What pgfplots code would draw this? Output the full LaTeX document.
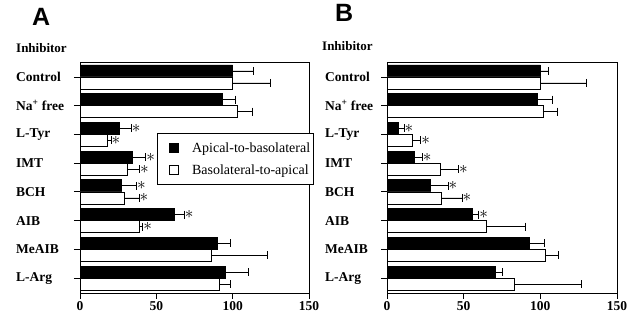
\documentclass[border=0pt]{standalone}
\usepackage{fontspec}
\setmainfont{Liberation Serif}
\newfontfamily\hv{Liberation Sans}
\usepackage{pgfplots}
\usepackage{pgfplotstable}
\pgfplotsset{compat=1.18}

% cat  a(apical-to-basolateral) aerr  b(basolateral-to-apical) berr
\pgfplotstableread{
cat a aerr b berr
0 100 13.5 100 25
1 93 9 103 10
2 26 7.5 18 2.3
3 34 9 31 8
4 27 10 29 9.6
5 62 6.3 39 2
6 90 8.7 86 37
7 95 15 91.5 7.2
}\dataA
\pgfplotstableread{
cat a aerr b berr
0 100 5 100 30
1 98 10 101.7 9.3
2 7.2 3.8 16.7 5.3
3 17.6 5.4 35 11.5
4 28.3 11.5 35.7 13.2
5 55.4 4.4 65 25.2
6 92.8 10 103.3 8.7
7 70.4 4.6 83.3 43.7
}\dataB

\pgfplotsset{
  panel/.style={
    scale only axis,
    height=231pt,
    xmin=0, xmax=150,
    ymin=-0.52, ymax=7.52,
    y dir=reverse,
    axis line style={line width=0.8pt},
    ytick={0,...,7},
    yticklabels={Control,Na\textsuperscript{+} free,L-Tyr,IMT,BCH,AIB,MeAIB,L-Arg},
    xtick={0,50,100,150},
    xtick pos=left, ytick pos=left,
    tick align=outside,
    major tick length=6pt,
    tick style={line width=0.8pt, black},
    /pgf/number format/assume math mode=true,
    ticklabel style={font=\bfseries\fontsize{13.5}{15}\selectfont},
    yticklabel style={anchor=west, inner sep=0pt},
    xticklabel style={inner sep=2pt},
    legend image code/.code={\path (0pt,0pt) (31pt,0pt);\draw[##1,/tikz/.cd,draw=black,line width=0.7pt] (10pt,-4.5pt) rectangle (19pt,4.5pt);},
  },
  barA/.style={xbar, bar width=12pt, bar shift=0pt, fill=black, draw=black, line width=0.7pt},
  barB/.style={xbar, bar width=12pt, bar shift=0pt, fill=white, draw=black, line width=0.7pt},
  errs/.style={error bars/.cd, x dir=plus, x explicit, error mark=|, error bar style={line width=0.7pt, black}, error mark options={line width=0.7pt, black, mark size=4pt}},
  stars/.style={draw=none, mark=none, forget plot, nodes near coords={$\ast$},
    every node near coord/.style={anchor=west, inner sep=0.5pt, font=\fontsize{19}{19}\selectfont}},
}

\begin{document}
\begin{tikzpicture}
\useasboundingbox (0,0) rectangle (638pt,-321pt);

\node[anchor=north west, inner sep=0pt, font=\hv\bfseries\fontsize{25}{25}\selectfont] at (32pt,-8pt) {A};
\node[anchor=north west, inner sep=0pt, font=\hv\bfseries\fontsize{25}{25}\selectfont] at (335pt,-4pt) {B};
\node[anchor=base west, inner sep=0pt, font=\bfseries\fontsize{13}{15}\selectfont] at (16pt,-53pt) {Inhibitor};
\node[anchor=base west, inner sep=0pt, font=\bfseries\fontsize{13}{15}\selectfont] at (322pt,-51pt) {Inhibitor};

\begin{axis}[panel, width=229pt, at={(80pt,-62pt)}, anchor=north west,
  yticklabel style={xshift=-58pt},
  legend style={at={(0.336,0.693)}, anchor=north west, draw=black, line width=0.8pt,
    font=\fontsize{14}{16}\selectfont, inner xsep=2pt, inner ysep=8pt, row sep=9pt,
    nodes={inner xsep=1pt, inner ysep=1pt}},
  legend cell align=left]
\addplot[barA, errs] table[x=a, y expr=\thisrow{cat}-0.21, x error=aerr] {\dataA};
\addlegendentry{Apical-to-basolateral}
\addplot[barB, errs] table[x=b, y expr=\thisrow{cat}+0.21, x error=berr] {\dataA};
\addlegendentry{Basolateral-to-apical}
\addplot[stars] coordinates {(33.5,1.79) (20.3,2.21) (43,2.79) (39,3.21) (37,3.79) (38.6,4.21) (68.3,4.79) (41,5.21)};
\end{axis}

\begin{axis}[panel, width=230pt, at={(387pt,-62pt)}, anchor=north west,
  yticklabel style={xshift=-56pt}]
\addplot[barA, errs] table[x=a, y expr=\thisrow{cat}-0.21, x error=aerr] {\dataB};
\addplot[barB, errs] table[x=b, y expr=\thisrow{cat}+0.21, x error=berr] {\dataB};
\addplot[stars] coordinates {(11,1.79) (22,2.21) (23,2.79) (46.5,3.21) (39.8,3.79) (48.9,4.21) (59.8,4.79)};
\end{axis}
\end{tikzpicture}
\end{document}
